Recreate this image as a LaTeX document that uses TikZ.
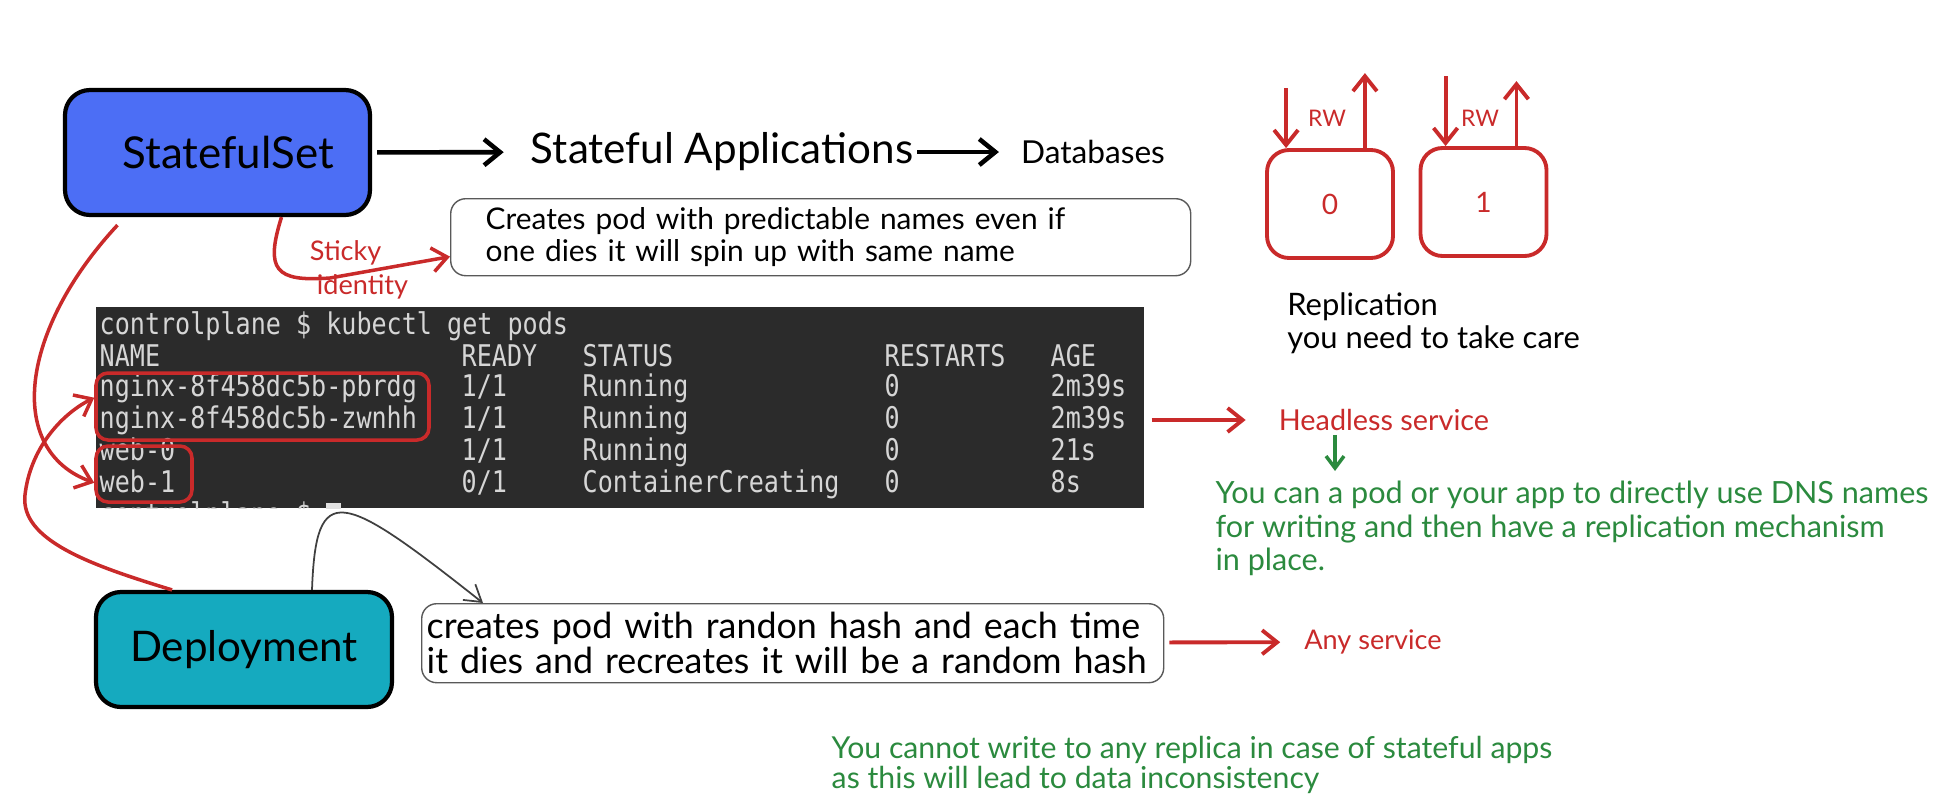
\documentclass[tikz,border=0pt]{standalone}
\usepackage{fontspec}
\setmainfont{Lato}
\newfontfamily\termfont[FakeStretch=0.84]{DejaVu Sans Mono}
\usepackage{xcolor}
\usepackage{tikz}
\usetikzlibrary{positioning,arrows.meta}
\definecolor{ssblue}{HTML}{4C6EF5}
\definecolor{depcyan}{HTML}{15AABF}
\definecolor{inkred}{HTML}{C92A2A}
\definecolor{inkgreen}{HTML}{2B8A3E}
\definecolor{termbg}{HTML}{2B2B2B}
\definecolor{termfg}{HTML}{D6D6D6}
\newcommand{\podrow}[5]{\makebox[36.2mm][l]{#1}\makebox[12.1mm][l]{#2}\makebox[30.2mm][l]{#3}\makebox[16.6mm][l]{#4}#5}

\begin{document}
\begin{tikzpicture}[
  x=0.1mm, y=-0.1mm, inner sep=1pt,
  kind/.style={draw, very thick, rounded corners=2.5mm, minimum width=30.5mm,
               minimum height=12.5mm},
  note/.style={draw=black!65, rounded corners=1.5mm, align=left, anchor=north west},
  term/.style={fill=termbg, minimum width=104.8mm, minimum height=20.1mm},
  row/.style={anchor=west, inner sep=0pt, text=termfg,
              font=\termfont\fontsize{8.5}{10}\selectfont},
  hilite/.style={draw=inkred, line width=1pt, rounded corners=1.2mm},
  replica/.style={draw=inkred, line width=1.1pt, rounded corners=2.2mm, text=inkred,
                  minimum width=12.6mm, minimum height=10.8mm, font=\fontsize{8}{10}\selectfont},
  blk/.style={-{Straight Barb[length=1.6mm,width=2.6mm]}, line width=1.3pt},
  rarr/.style={-{Straight Barb[length=1.5mm,width=2.4mm]}, line width=1.1pt, draw=inkred},
  garr/.style={-{Straight Barb[length=1.2mm,width=1.8mm]}, line width=1pt, draw=inkgreen},
  link/.style={-{Straight Barb[length=1.6mm,width=2mm]}, line width=0.5pt, draw=black!75},
]
\useasboundingbox (0,0) rectangle (1944,810);

% kinds
\node[kind, fill=ssblue, font=\fontsize{12.5}{14}\selectfont] (ss) at (217.5,152.5)
  {\hspace*{2.1mm}StatefulSet};
\node[kind, fill=depcyan, minimum width=29.6mm, minimum height=11.5mm,
      font=\fontsize{12}{14}\selectfont] (dep) at (244,649.5) {Deployment};

% top line
\node[font=\fontsize{12}{14}\selectfont] (apps) at (722,152) {Stateful Applications};
\node[font=\fontsize{9}{11}\selectfont] (db) at (1093,152) {Databases};
\draw[blk, shorten <=0.5mm, shorten >=2.3mm] (ss) -- (apps);
\draw[blk, shorten >=1.8mm] (apps) -- (db);

% notes
\node[note, minimum width=74mm, minimum height=7.7mm, inner xsep=3.5mm, text width=67mm,
      font=\fontsize{8.5}{9.1}\selectfont] (pred) at (450,198)
  {Creates pod with predictable names even if\\one dies it will spin up with same name};
\node[note, minimum width=74.2mm, minimum height=7.9mm, inner xsep=0.5mm, text width=73.2mm,
      font=\fontsize{10.2}{10}\selectfont] (rand) at (421,603)
  {creates pod with randon hash and each time\\it dies and recreates it will be a random hash};

% kubectl output
\node[term] (term) at (620,407.5) {};
\node[row] (row0) at (99,326) {controlplane \$ kubectl get pods};
\node[row] (row1) at (99,356) {\podrow{NAME}{READY}{STATUS}{RESTARTS}{AGE}};
\node[row] (row2) at (99,388) {\podrow{nginx-8f458dc5b-pbrdg}{1/1}{Running}{0}{2m39s}};
\node[row] (row3) at (99,420) {\podrow{nginx-8f458dc5b-zwnhh}{1/1}{Running}{0}{2m39s}};
\node[row] (row4) at (99,452) {\podrow{web-0}{1/1}{Running}{0}{21s}};
\node[row] (row5) at (99,484) {\podrow{web-1}{0/1}{ContainerCreating}{0}{8s}};
\begin{scope}
  \clip (term.south west) rectangle (term.north east);
  \node[row, anchor=base west] (row6) at (99,524)
    {controlplane \$ \textcolor{termfg!75}{\rule[-1.5pt]{1.45mm}{7.5pt}}};
\end{scope}
\node[hilite, minimum width=33.3mm, minimum height=6.7mm] (ngx) at (262.5,406.5) {};
\node[hilite, minimum width=9.6mm, minimum height=5.6mm] (web) at (144,474) {};

% red links
\draw[rarr, line width=1pt] ([xshift=-10mm,yshift=-0.8mm]ss.south)
  .. controls (20,330) and (5,450) .. (web.190);
\draw[rarr, line width=1pt] ([xshift=-7.2mm]dep.north)
  .. controls (90,565) and (20,540) .. (25,495)
  .. controls (30,450) and (60,415) .. (ngx.177);
\draw[rarr, line width=1pt] ([xshift=6.4mm]ss.south)
  .. controls (265,270) and (275,282) .. (330,278) -- (pred.183);
\node[align=left, text=inkred, font=\fontsize{7.7}{9.7}\selectfont] (sticky) at (359,270)
  {Sticky\\\hspace*{0.7mm}identity};
\draw[link] ([xshift=6.8mm]dep.north) .. controls (316,480) and (340,490)
  .. ([xshift=6.2mm]rand.north west);

% services
\node[text=inkred, font=\fontsize{8.2}{10}\selectfont] (headless) at (1384,420) {Headless service};
\node[text=inkred, font=\fontsize{7.7}{10}\selectfont] (any) at (1373,642) {Any service};
\draw[rarr, shorten <=0.7mm, shorten >=2.9mm] (term.east |- row3) -- (headless);
\draw[rarr, shorten <=0.5mm, shorten >=2mm] (rand) -- (any);
\node[align=left, text=inkgreen, font=\fontsize{8.7}{9.5}\selectfont] (dns) at (1572,528.5)
  {You can a pod or your app to directly use DNS names\\for writing and then have a replication mechanism\\in place.};
\coordinate (dnsx) at (1335,0);
\draw[garr, shorten >=0.6mm] (headless.south -| dnsx) -- (dns.north -| dnsx);
\node[align=left, text=inkgreen, font=\fontsize{8.6}{8.6}\selectfont] (warn) at (1192,765)
  {You cannot write to any replica in case of stateful apps\\as this will lead to data inconsistency};

% replicas
\node[replica] (r0) at (1330,204) {0};
\node[replica] (r1) at (1483.5,202) {1};
\draw[rarr] ([xshift=2.1mm,yshift=6mm]r0.north west) -- ([xshift=2.1mm]r0.north west);
\draw[rarr] ([xshift=-3mm]r0.north east) -- ([xshift=-3mm,yshift=7.5mm]r0.north east);
\draw[rarr] ([xshift=2.7mm,yshift=7mm]r1.north west) -- ([xshift=2.7mm]r1.north west);
\draw[rarr] ([xshift=-3.2mm]r1.north east) -- ([xshift=-3.2mm,yshift=6.5mm]r1.north east);
\node[text=inkred, font=\fontsize{6.5}{8}\selectfont] (rw0) at (1327,118) {RW};
\node[text=inkred, font=\fontsize{6.5}{8}\selectfont] (rw1) at (1480,118) {RW};
\node[align=left, font=\fontsize{8.8}{9.4}\selectfont] (repl) at (1433.5,323.5)
  {Replication\\you need to take care};
\end{tikzpicture}
\end{document}
